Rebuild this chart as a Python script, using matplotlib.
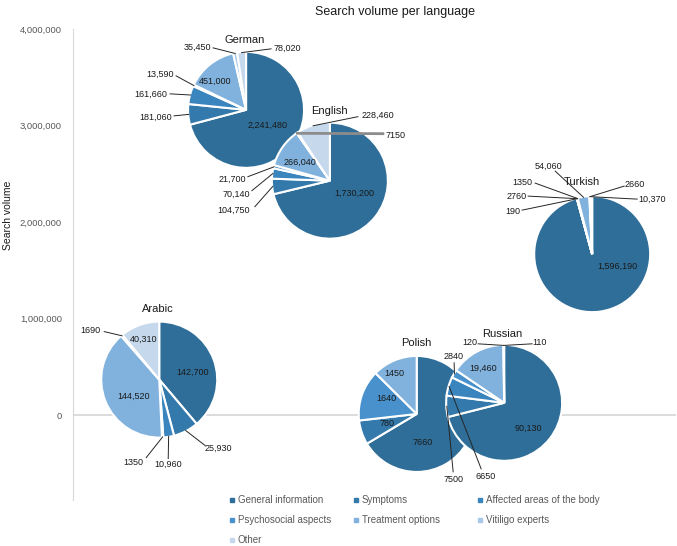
import numpy as np
import matplotlib.pyplot as plt
from matplotlib.patches import Rectangle
from matplotlib.ticker import FuncFormatter

plt.rcParams['font.family'] = ['Liberation Sans', 'DejaVu Sans']

# ---------------- data ----------------
categories = ['General information', 'Symptoms', 'Affected areas of the body',
              'Psychosocial aspects', 'Treatment options', 'Vitiligo experts', 'Other']
colors = ['#2F6E98', '#3479AB', '#3B85BF', '#4891CC', '#80B2DD', '#A8C9E8', '#C6D8EC']

languages = ['Arabic', 'German', 'English', 'Turkish', 'Polish', 'Russian']
german = [2241480, 181060, 161660, 13590, 451000, 35450, 78020]
english = [1730200, 104750, 70140, 21700, 266040, 7150, 228460]
turkish = [1596190, 190, 2760, 1350, 54060, 2660, 10370]
arabic = [142700, 25930, 10960, 1350, 144520, 1690, 40310]
polish = [7660, 780, 0, 1640, 1450, 0, 0]
russian = [90130, 7500, 6650, 2840, 19460, 120, 110]
values = {'German': german, 'English': english, 'Turkish': turkish,
          'Arabic': arabic, 'Polish': polish, 'Russian': russian}

# ---------------- layout (pixels) ----------------
W, H = 677, 546
R = 58  # pie radius in px
# x position of each pie (axes fraction), label offsets from centre in px
# (dx, dy) = label inside ; (dx, dy, sx, sy) = label outside, leader starts at (sx, sy)
layout = {
    'German': dict(x=0.287, title=(-1, 70), labels={
        0: (22, -15), 4: (-31, 29),
        1: (-90, -7, -72, -6), 2: (-95, 16, -76, 16), 3: (-86, 36, -70, 34),
        5: (-49, 63, -33, 62), 6: (41, 62, 25, 61)}),
    'English': dict(x=0.426, title=(0, 70), labels={
        0: (24, -13), 4: (-30, 18),
        6: (48, 65, 28, 64), 5: (66, 45, 53, 47),
        3: (-98, 1, -82, 4), 2: (-94, -14, -78, -10), 1: (-96, -30, -75, -26)}),
    'Turkish': dict(x=0.861, title=(-10, 72), labels={
        0: (25, -12),
        4: (-44, 88, -37, 83), 3: (-70, 72, -57, 71), 2: (-76, 58, -64, 58),
        1: (-79, 43, -70, 44), 5: (43, 70, 32, 68), 6: (60, 55, 45, 55)}),
    'Arabic': dict(x=0.143, title=(-1, 71), labels={
        0: (33, 7), 4: (-26, -17), 6: (-16, 40),
        5: (-69, 49, -55, 48), 1: (59, -69, 46, -66),
        2: (9, -85, 9, -79), 3: (-26, -83, -13, -78)}),
    'Polish': dict(x=0.570, title=(0, 71), labels={
        0: (6, -29), 1: (-30, -10), 3: (-30, 15), 4: (-22, 40)}),
    'Russian': dict(x=0.715, title=(-2, 69), labels={
        0: (24, -25), 4: (-21, 35),
        3: (-51, 46, -50, 40), 2: (-19, -74, -23, -66), 1: (-51, -77, -51, -69),
        5: (-34, 60, -26, 59), 6: (35, 60, 28, 59)}),
}


def fmt(v):
    return f'{v:,}' if v >= 10000 else str(v)


fig = plt.figure(figsize=(W / 100, H / 100), dpi=100)
ax = fig.add_axes([73 / W, 46 / H, 603 / W, 471 / H])
ax.set_xlim(0, 1)
ax.set_ylim(-880000, 4000000)
ax.set_yticks([0, 1000000, 2000000, 3000000, 4000000])
ax.yaxis.set_major_formatter(FuncFormatter(lambda v, p: f'{v:,.0f}'))
ax.tick_params(axis='y', length=0, pad=8, labelsize=6.8, labelcolor='#595959')
ax.set_xticks([])
for s in ['top', 'right', 'bottom']:
    ax.spines[s].set_visible(False)
ax.spines['left'].set_color('#D9D9D9')
ax.axhline(0, color='#D9D9D9', lw=1.3, zorder=0)

fig.text(395 / W, 1 - 12 / H, 'Search volume per language', ha='center', va='center',
         fontsize=9, color='#1a1a1a')
fig.text(8 / W, 1 - 215 / H, 'Search volume', rotation=90, ha='center', va='center',
         fontsize=7.5, color='#1a1a1a')

fig.canvas.draw()
pad = 3
for lang in languages:
    vals = values[lang]
    lay = layout[lang]
    total = sum(vals)
    cx, cy = ax.transData.transform((lay['x'], total))
    pax = fig.add_axes([(cx - R - pad) / W, (cy - R - pad) / H,
                        2 * (R + pad) / W, 2 * (R + pad) / H])
    idx = [i for i, v in enumerate(vals) if v > 0]
    pax.pie([vals[i] for i in idx], colors=[colors[i] for i in idx], startangle=90,
            counterclock=False, wedgeprops=dict(edgecolor='white', linewidth=1.5))
    lim = (R + pad) / R
    pax.set_xlim(-lim, lim)
    pax.set_ylim(-lim, lim)
    pax.set_aspect('equal')
    pax.axis('off')

    tx, ty = lay['title']
    pax.text(tx / R, ty / R, lang, ha='center', va='center', fontsize=8,
             color='#1a1a1a', clip_on=False)

    cum = 0
    for i in idx:
        v = vals[i]
        theta = np.deg2rad(360 * (cum + v / 2) / total)
        cum += v
        spec = lay['labels'].get(i)
        if spec is None:
            continue
        if len(spec) == 4:
            ex, ey = np.sin(theta) * 0.99, np.cos(theta) * 0.99
            if lang == 'English' and i == 5:
                lc, lw = '#8C8C8C', 2.0
            else:
                lc, lw = '#262626', 0.7
            pax.plot([spec[2] / R, ex], [spec[3] / R, ey], color=lc, lw=lw, clip_on=False)
        pax.text(spec[0] / R, spec[1] / R, fmt(v), ha='center', va='center',
                 fontsize=6.5, color='#1a1a1a', clip_on=False)

# legend, row-wise in three columns
col_x = [232, 356, 480]
row_y = [500, 520, 540]
for k, (name, c) in enumerate(zip(categories, colors)):
    x = col_x[k % 3]
    y = row_y[k // 3]
    fig.add_artist(Rectangle(((x - 2) / W, 1 - (y + 2) / H), 4 / W, 4 / H,
                             transform=fig.transFigure, color=c))
    fig.text((x + 6) / W, 1 - y / H, name, ha='left', va='center',
             fontsize=7, color='#595959')

fig.savefig('out.png', dpi=100)
